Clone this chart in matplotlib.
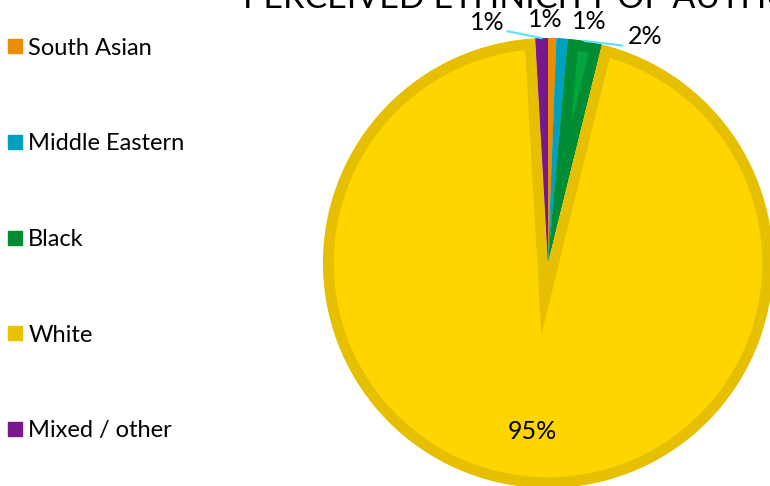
import matplotlib.pyplot as plt
from matplotlib.lines import Line2D
import numpy as np

plt.rcParams['font.family'] = ['Lato', 'DejaVu Sans']

# Perceived ethnicity shares (percent), pie order clockwise from 12 o'clock
groups = ['South Asian', 'Middle Eastern', 'Black', 'White', 'Mixed / other']
shares = [0.6, 0.8, 2.45, 95.25, 0.9]
edge_colors = ['#E88E00', '#00A0C0', '#008C32', '#E6C000', '#78188C']
fill_colors = ['#E88E00', '#00A0C0', '#00A53C', '#FFD500', '#78188C']
legend_colors = ['#E88E00', '#00A0C0', '#008C32', '#E6C200', '#78188C']

fig = plt.figure(figsize=(7.7, 4.86), dpi=100)

# axes sized so the pie (radius 1) is ~225 px around (548, 263)
ax = fig.add_axes([323 / 770, -2 / 486, 450 / 770, 450 / 486])
wedges, texts, autotexts = ax.pie(shares, colors=fill_colors, startangle=90,
                                  counterclock=False, radius=1,
                                  autopct='%.0f%%', pctdistance=0.75,
                                  textprops=dict(fontsize=18, color='black'))
for w, ec in zip(wedges, edge_colors):
    w.set_edgecolor(ec)
    w.set_linewidth(15.5)
    w.set_clip_on(True)
    w.set_clip_path(w)   # keep only the inner half of the border

ax.set_xlim(-1, 1)
ax.set_ylim(-1, 1)
ax.set_aspect('auto')
ax.axis('off')

# small-slice labels placed above the pie like the original
label_pos = {0: (-0.013, 1.08), 1: (0.182, 1.075), 2: (0.43, 1.005), 4: (-0.27, 1.07)}
for i, (x, y) in label_pos.items():
    autotexts[i].set_position((x, y))
    autotexts[i].set_ha('center')
    autotexts[i].set_va('center')

# leader lines for Mixed / other and Black
for i, start in [(4, (-0.18, 1.03)), (2, (0.33, 0.967))]:
    w = wedges[i]
    mid = np.deg2rad((w.theta1 + w.theta2) / 2)
    ax.plot([start[0], np.cos(mid)], [start[1], np.sin(mid)],
            color='#5CE1FF', lw=1.5, clip_on=False, zorder=3)

# title, partly cut off at the top edge
fig.text(243 / 770, 1 - 8 / 486, 'PERCEIVED ETHNICITY OF AUTHORS',
         fontsize=24.5, ha='left', va='baseline')

handles = [Line2D([], [], marker='s', ls='', markersize=9.5,
                  markerfacecolor=c, markeredgecolor=c) for c in legend_colors]
fig.legend(handles, groups, loc='upper left', bbox_to_anchor=(0.0, 0.937),
           frameon=False, fontsize=17, labelspacing=3.16, handlelength=0.7,
           handletextpad=0.2, borderaxespad=0, borderpad=0.3)

fig.savefig('out.png', dpi=100)
